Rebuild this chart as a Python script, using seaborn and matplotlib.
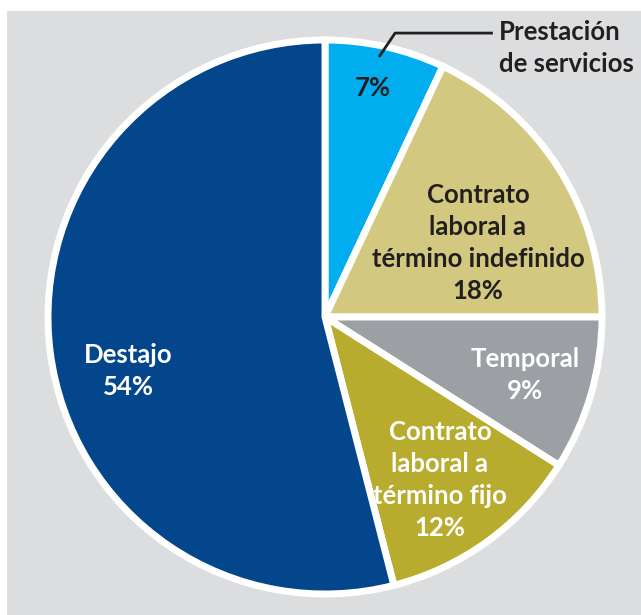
"""Pie chart: tipo de contratación."""

import matplotlib.pyplot as plt
from matplotlib.patches import Rectangle
import seaborn as sns


CATEGORIES = [
    "Prestación\nde servicios",
    "Contrato\nlaboral a\ntérmino indefinido",
    "Temporal",
    "Contrato\nlaboral a\ntérmino fijo",
    "Destajo",
]
SHARES = [7, 18, 9, 12, 54]
COLORS = ["#00aeef", "#d3c87f", "#9c9fa3", "#b8ac2e", "#03468b"]
TEXT_COLORS = ["#231f20", "#231f20", "white", "white", "white"]

# label anchors in pie units (radius = 1)
LABEL_POS = [(0.173, 0.827), (0.552, 0.267), (0.722, -0.209),
             (0.415, -0.588), (-0.711, -0.195)]

FONT = ["Lato", "DejaVu Sans"]


def main() -> None:
    sns.set_theme(style="white")
    plt.rcParams["font.family"] = FONT

    fig = plt.figure(figsize=(6.41, 6.15), dpi=100)
    fig.patch.set_facecolor("white")
    fig.patches.append(Rectangle((7 / 641, 0), 1, 604 / 615,
                                 transform=fig.transFigure,
                                 facecolor="#dcdddf", edgecolor="none",
                                 zorder=-10))

    ax = fig.add_axes([0, 0, 1, 1])
    ax.set_facecolor("none")
    radius_px = 277
    cx, cy = 325, 317

    palette = sns.color_palette(COLORS)
    ax.pie(SHARES, colors=palette, startangle=90, counterclock=False,
           radius=1, frame=True,
           wedgeprops=dict(edgecolor="white", linewidth=5))
    ax.set_xlim(-cx / radius_px, (641 - cx) / radius_px)
    ax.set_ylim(-(615 - cy) / radius_px, cy / radius_px)
    ax.set_aspect("auto")
    ax.axis("off")

    for i, (name, share) in enumerate(zip(CATEGORIES, SHARES)):
        x, y = LABEL_POS[i]
        text = f"{share}%" if i == 0 else f"{name}\n{share}%"
        ax.text(x, y, text, ha="center", va="center", color=TEXT_COLORS[i],
                fontsize=18.5, fontweight="bold", linespacing=1.4)

    # outside label with leader line for the small slice
    ax.plot([0.195, 0.253, 0.606], [0.939, 1.025, 1.025],
            color="#231f20", lw=2, solid_capstyle="butt")
    ax.text(0.628, 0.971, CATEGORIES[0], ha="left", va="center",
            color="#231f20", fontsize=18.5, fontweight="bold",
            linespacing=1.4)

    fig.savefig("out.png", dpi=100, facecolor=fig.get_facecolor())


if __name__ == "__main__":
    main()
